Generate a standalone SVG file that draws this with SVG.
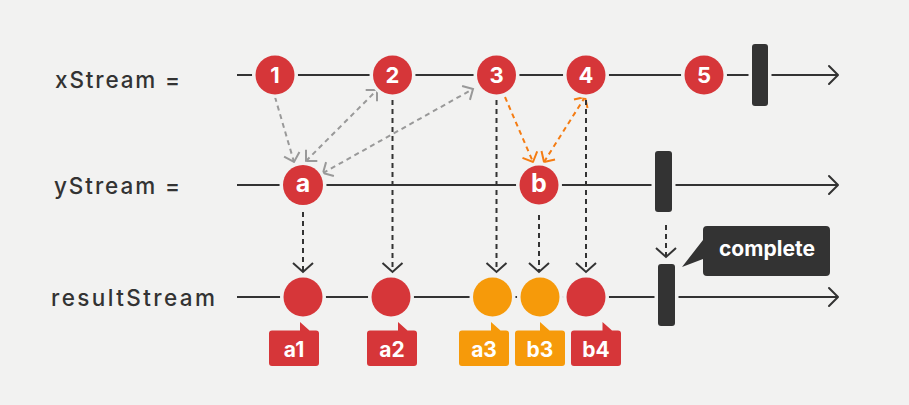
<svg xmlns="http://www.w3.org/2000/svg" width="909" height="405" viewBox="0 0 909 405">
<style>
.bg{fill:#f2f2f1}
.lbl{font-family:Inter,"Noto Sans","DejaVu Sans",sans-serif;font-size:22.5px;font-weight:500;fill:#333}
.line{stroke:#333;stroke-width:2;fill:none}
.head{stroke:#333;stroke-width:2;fill:none;stroke-linecap:round;stroke-linejoin:round}
.ev{stroke:#f2f2f1;stroke-width:7;paint-order:stroke}
.red{fill:#d63639}
.org{fill:#f69a0a}
.bar{fill:#333;stroke:#f2f2f1;stroke-width:7;paint-order:stroke}
.ct{font-family:Inter,"Noto Sans","DejaVu Sans",sans-serif;font-weight:700;fill:#fff;text-anchor:middle}
.dk{stroke:#333;stroke-width:2;stroke-dasharray:5,4;fill:none}
.gy{stroke:#999;stroke-width:2;stroke-dasharray:5,4;fill:none}
.og{stroke:#f57c12;stroke-width:2;stroke-dasharray:5,4;fill:none}
</style>
<defs>
<marker id="ad" viewBox="-12 -12 14 24" markerWidth="14" markerHeight="24" refX="0" refY="0" orient="auto-start-reverse" markerUnits="userSpaceOnUse"><path d="M-9,-10 L0,0 L-9,10" fill="none" stroke="#333" stroke-width="2"/></marker>
<marker id="ag" viewBox="-12 -12 14 24" markerWidth="14" markerHeight="24" refX="0" refY="0" orient="auto-start-reverse" markerUnits="userSpaceOnUse"><path d="M-8,-8 L0,0 L-8,8" fill="none" stroke="#999" stroke-width="2"/></marker>
<marker id="ao" viewBox="-12 -12 14 24" markerWidth="14" markerHeight="24" refX="0" refY="0" orient="auto-start-reverse" markerUnits="userSpaceOnUse"><path d="M-8,-8 L0,0 L-8,8" fill="none" stroke="#f57c12" stroke-width="2"/></marker>
</defs>
<rect class="bg" x="0" y="0" width="909" height="405"/>

<g id="labels">
<text class="lbl" x="55" y="88" textLength="125" lengthAdjust="spacing">xStream =</text>
<text class="lbl" x="54" y="194" textLength="126" lengthAdjust="spacing">yStream =</text>
<text class="lbl" x="51" y="306" textLength="164" lengthAdjust="spacing">resultStream</text>
</g>

<g id="timelines">
<line class="line" x1="237" y1="75" x2="837" y2="75"/>
<path class="head" d="M829,66 L838,75 L829,84"/>
<line class="line" x1="237" y1="185" x2="837" y2="185"/>
<path class="head" d="M829,176 L838,185 L829,194"/>
<line class="line" x1="237" y1="297" x2="837" y2="297"/>
<path class="head" d="M829,288 L838,297 L829,306"/>
</g>

<g id="connectors">
<line class="gy" x1="275" y1="97" x2="294" y2="162" marker-end="url(#ag)"/>
<line class="gy" x1="306" y1="161" x2="377" y2="90" marker-start="url(#ag)" marker-end="url(#ag)"/>
<line class="gy" x1="323" y1="173" x2="473" y2="89" marker-start="url(#ag)" marker-end="url(#ag)"/>
<line class="og" x1="505" y1="97" x2="533" y2="162" marker-end="url(#ao)"/>
<line class="og" x1="544" y1="162" x2="585" y2="97" marker-start="url(#ao)" marker-end="url(#ao)"/>
<line class="dk" x1="392.5" y1="100" x2="392.5" y2="272" marker-end="url(#ad)"/>
<line class="dk" x1="496.5" y1="100" x2="496.5" y2="272" marker-end="url(#ad)"/>
<line class="dk" x1="586" y1="100" x2="586" y2="272" marker-end="url(#ad)"/>
<line class="dk" x1="303" y1="212" x2="303" y2="272" marker-end="url(#ad)"/>
<line class="dk" x1="539" y1="215" x2="539" y2="272" marker-end="url(#ad)"/>
<line class="dk" x1="666" y1="225" x2="666" y2="257" marker-end="url(#ad)"/>
</g>

<g id="x1"><circle class="red ev" cx="275" cy="75" r="19.5"/><text class="ct" x="275" y="83" font-size="22">1</text></g>
<g id="x2"><circle class="red ev" cx="392.5" cy="75" r="19.5"/><text class="ct" x="392.5" y="83" font-size="22">2</text></g>
<g id="x3"><circle class="red ev" cx="496.5" cy="75" r="19.5"/><text class="ct" x="496.5" y="83" font-size="22">3</text></g>
<g id="x4"><circle class="red ev" cx="586" cy="75" r="19.5"/><text class="ct" x="586" y="83" font-size="22">4</text></g>
<g id="x5"><circle class="red ev" cx="704" cy="75" r="19.5"/><text class="ct" x="704" y="83" font-size="22">5</text></g>
<g id="xEnd"><rect class="bar" x="752" y="44" width="16" height="62" rx="3"/></g>

<g id="ya"><circle class="red ev" cx="303" cy="185" r="20"/><text class="ct" x="303" y="192" font-size="25">a</text></g>
<g id="yb"><circle class="red ev" cx="539" cy="185" r="19.5"/><text class="ct" x="539" y="192" font-size="25">b</text></g>
<g id="yEnd"><rect class="bar" x="655" y="151" width="17" height="61" rx="3"/></g>

<g id="r_a1"><circle class="red ev" cx="303" cy="297" r="19.5"/>
<path class="red" d="M272,330.5 H300 V322 L309.5,330.5 H316 a3,3 0 0 1 3,3 V363 a3,3 0 0 1 -3,3 H272 a3,3 0 0 1 -3,-3 V333.5 a3,3 0 0 1 3,-3 Z"/>
<text class="ct" x="294" y="357" font-size="21">a1</text></g>
<g id="r_a2"><circle class="red ev" cx="391" cy="297" r="19.5"/>
<path class="red" d="M370,330.5 H398 V322 L407.5,330.5 H414 a3,3 0 0 1 3,3 V363 a3,3 0 0 1 -3,3 H370 a3,3 0 0 1 -3,-3 V333.5 a3,3 0 0 1 3,-3 Z"/>
<text class="ct" x="392" y="357" font-size="21">a2</text></g>
<g id="r_a3"><circle class="org ev" cx="492.5" cy="297" r="19.5"/>
<path class="org" d="M462,330.5 H491 V322 L500.5,330.5 H506 a3,3 0 0 1 3,3 V363 a3,3 0 0 1 -3,3 H462 a3,3 0 0 1 -3,-3 V333.5 a3,3 0 0 1 3,-3 Z"/>
<text class="ct" x="484" y="357" font-size="21">a3</text></g>
<g id="r_b3"><circle class="org ev" cx="540" cy="297" r="19.5"/>
<path class="org" d="M518,330.5 H540 V322 L549.5,330.5 H562 a3,3 0 0 1 3,3 V363 a3,3 0 0 1 -3,3 H518 a3,3 0 0 1 -3,-3 V333.5 a3,3 0 0 1 3,-3 Z"/>
<text class="ct" x="540" y="357" font-size="21">b3</text></g>
<g id="r_b4"><circle class="red ev" cx="586" cy="297" r="19.5"/>
<path class="red" d="M574,330.5 H602.5 V322 L612,330.5 H618 a3,3 0 0 1 3,3 V363 a3,3 0 0 1 -3,3 H574 a3,3 0 0 1 -3,-3 V333.5 a3,3 0 0 1 3,-3 Z"/>
<text class="ct" x="596" y="357" font-size="21">b4</text></g>
<g id="rEnd"><rect class="bar" x="658" y="264" width="17" height="62" rx="3"/></g>

<g id="complete">
<path fill="#333" d="M707,226 H826 a4,4 0 0 1 4,4 V272 a4,4 0 0 1 -4,4 H707 a4,4 0 0 1 -4,-4 V259 L682,267 L703,240 V230 a4,4 0 0 1 4,-4 Z"/>
<text class="ct" x="767" y="256" font-size="21" textLength="96" lengthAdjust="spacing">complete</text>
</g>
</svg>
